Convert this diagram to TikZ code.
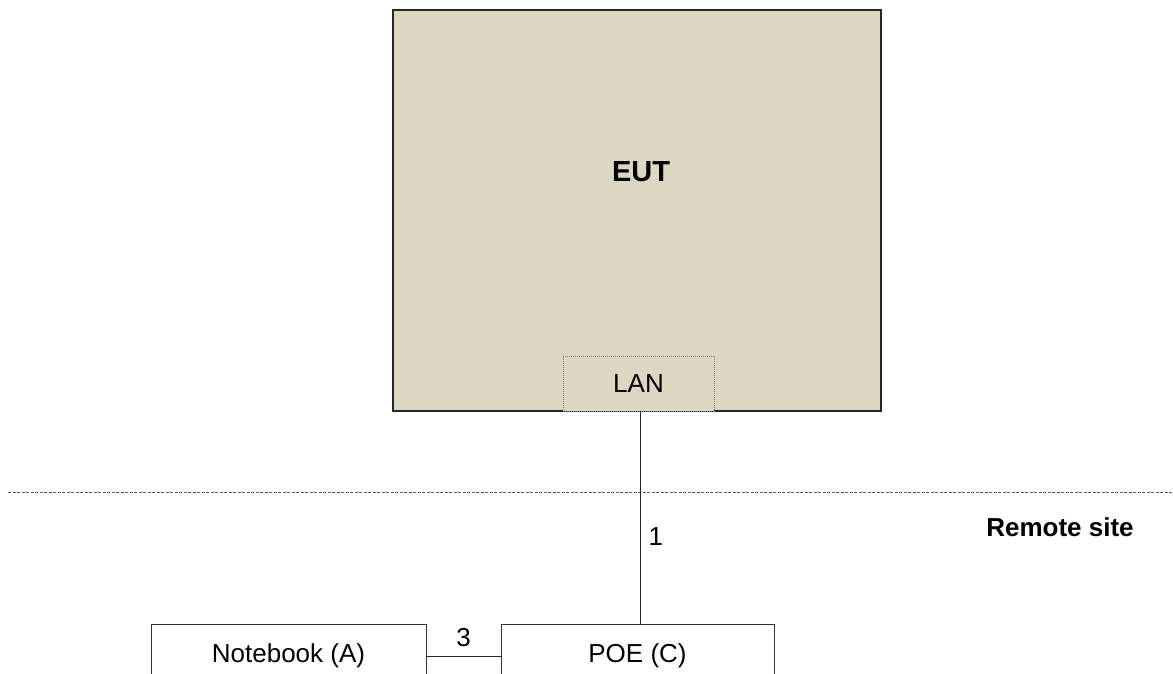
\documentclass[tikz,border=0pt]{standalone}
\usepackage{fontspec}
\setmainfont{Liberation Sans}
\usetikzlibrary{positioning,calc}

\definecolor{eutfill}{HTML}{DCD7C1}
\definecolor{sitegray}{HTML}{5A5A5A}

\tikzset{
  eutbox/.style={draw=black!85,line width=1.5pt,fill=eutfill},
  lanbox/.style={draw=gray,densely dotted,line width=1pt,fill=eutfill},
  devbox/.style={draw=black!80,line width=1pt,fill=white,minimum height=64},
  cable/.style={draw=black!85,line width=1pt},
  sitesplit/.style={draw=sitegray,line width=1pt,dash pattern=on 3pt off 1.5pt},
  txt/.style={font=\fontsize{26}{30}\selectfont,inner sep=0pt}
}

\begin{document}
\begin{tikzpicture}[x=1pt,y=-1pt]
  \clip (0,0) rectangle (1173,674);
  \useasboundingbox (0,0) rectangle (1173,674);

  % equipment under test
  \node (eut) at (637,210.5) [eutbox,minimum width=488,minimum height=401] {};
  \node (euttext) at (641,172) [txt,font=\fontsize{29}{34}\selectfont\bfseries] {EUT};
  \node (lan) at (638.5,383.5) [lanbox,txt,minimum width=151,minimum height=55] {LAN};

  % remote site border
  \coordinate (sl) at (8,492);
  \coordinate (sr) at (1173,492);
  \draw[sitesplit] (sl) -- (sr);
  \node (remote) at (1060,527) [txt,font=\fontsize{26}{30}\selectfont\bfseries] {Remote site};

  % devices on the remote site
  \node (poe) at (637.5,656) [devbox,txt,minimum width=273,minimum height=64] {POE (C)};
  \node (notebook) at (288.5,656) [devbox,txt,minimum width=275,minimum height=64] {Notebook (A)};

  \draw[cable] (lan.south -| 640,0) -- node[pos=0.59,right=8pt,txt] {1} (poe.north -| 640,0);
  \draw[cable] (notebook.east) -- node[above=9pt,txt] {3} (poe.west);
\end{tikzpicture}
\end{document}
